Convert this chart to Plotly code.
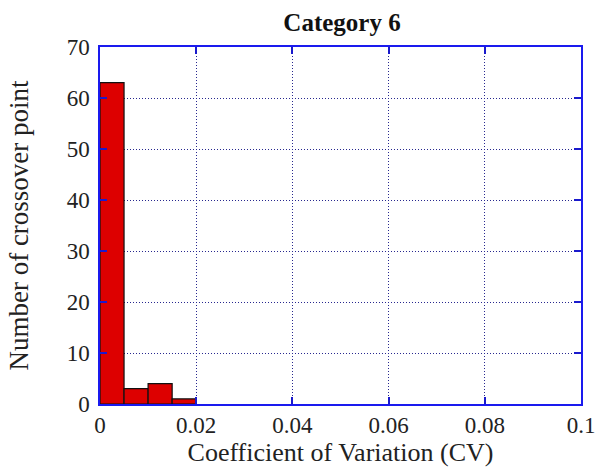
import plotly.graph_objects as go

bin_left = [0.0, 0.005, 0.01, 0.015]
bin_width = 0.005
counts = [63, 3, 4, 1]
x_ticks = [0, 0.02, 0.04, 0.06, 0.08, 0.1]
x_tick_labels = ["0", "0.02", "0.04", "0.06", "0.08", "0.1"]
y_ticks = [0, 10, 20, 30, 40, 50, 60, 70]

centers = [b + bin_width / 2 for b in bin_left]

fig = go.Figure(go.Bar(
    x=centers, y=counts, width=[bin_width] * len(counts),
    marker=dict(color="#dd0000", line=dict(color="#111", width=1.2)),
))

font_family = "Liberation Serif"
axis_common = dict(
    showline=True, linecolor="#1a1aee", linewidth=1.5, mirror="ticks",
    ticks="inside", ticklen=7, tickcolor="#1a1acc", tickwidth=1.5,
    showgrid=True, gridcolor="#28288f", griddash="1px,2px", gridwidth=1,
    zeroline=False, automargin=False,
    tickfont=dict(family=font_family, size=23, color="#222"),
)

fig.update_layout(
    width=600, height=470,
    margin=dict(l=100, r=19, t=47, b=66),
    paper_bgcolor="white", plot_bgcolor="white",
    showlegend=False,
    title=dict(text="<b>Category 6</b>", x=0.57, xanchor="center", y=0.953, yanchor="middle",
               font=dict(family=font_family, size=25, color="#111")),
    xaxis=dict(range=[0, 0.1], tickvals=x_ticks, ticktext=x_tick_labels,
               title=dict(text="Coefficient of Variation (CV)", standoff=0,
                          font=dict(family=font_family, size=26, color="#222")),
               **axis_common),
    yaxis=dict(range=[0, 70], tickvals=y_ticks, ticklabelstandoff=4,
               title=dict(text="Number of crossover point", standoff=30,
                          font=dict(family=font_family, size=27, color="#222")),
               **axis_common),
)

fig.write_html("out.html")
